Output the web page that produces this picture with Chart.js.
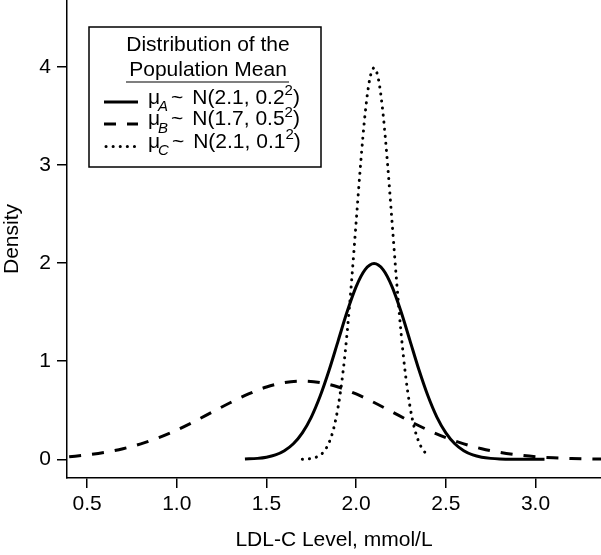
<!DOCTYPE html>
<html lang="en">
<head>
<meta charset="UTF-8">
<title>Distribution of the Population Mean</title>
<script src="https://cdn.jsdelivr.net/npm/chart.js@4"></script>
<style>
    html, body { margin: 0; padding: 0; background: #fff; }
    #wrap { width: 601px; height: 555px; }
</style>
</head>
<body>
<div id="wrap"><canvas id="densityChart" width="601" height="555"></canvas></div>
<script>
    // data
    const xA = [1.38, 1.45, 1.5, 1.55, 1.6, 1.65, 1.7, 1.75, 1.8, 1.85, 1.9, 1.95, 2.0, 2.05, 2.1, 2.15, 2.2, 2.25, 2.3, 2.35, 2.4, 2.45, 2.5, 2.55, 2.6, 2.65, 2.7, 2.75, 2.8, 2.9, 3.05];
    const yA = [0.003, 0.010, 0.022, 0.045, 0.088, 0.159, 0.270, 0.431, 0.648, 0.913, 1.210, 1.506, 1.760, 1.933, 1.995, 1.933, 1.760, 1.506, 1.210, 0.913, 0.648, 0.431, 0.270, 0.159, 0.088, 0.045, 0.022, 0.010, 0.004, 0.001, 0];

    const xB = [0.4, 0.5, 0.6, 0.7, 0.8, 0.9, 1.0, 1.1, 1.2, 1.3, 1.4, 1.5, 1.6, 1.7, 1.8, 1.9, 2.0, 2.1, 2.2, 2.3, 2.4, 2.5, 2.6, 2.7, 2.8, 2.9, 3.0, 3.1, 3.2, 3.3, 3.4];
    const yB = [0.027, 0.045, 0.071, 0.108, 0.158, 0.222, 0.299, 0.388, 0.484, 0.579, 0.666, 0.737, 0.782, 0.798, 0.782, 0.737, 0.666, 0.579, 0.484, 0.388, 0.299, 0.222, 0.158, 0.108, 0.071, 0.045, 0.027, 0.016, 0.009, 0.005, 0.002];

    const xC = [1.7, 1.725, 1.75, 1.775, 1.8, 1.825, 1.85, 1.875, 1.9, 1.925, 1.95, 1.975, 2.0, 2.025, 2.05, 2.075, 2.1, 2.125, 2.15, 2.175, 2.2, 2.225, 2.25, 2.275, 2.3, 2.325, 2.35, 2.375, 2.4];
    const yC = [0.001, 0.004, 0.009, 0.020, 0.044, 0.091, 0.175, 0.317, 0.540, 0.863, 1.295, 1.826, 2.420, 3.011, 3.521, 3.866, 3.989, 3.866, 3.521, 3.011, 2.420, 1.826, 1.295, 0.863, 0.540, 0.317, 0.175, 0.091, 0.044];

    const xTicks = [0.5, 1.0, 1.5, 2.0, 2.5, 3.0];
    const yTicks = [0, 1, 2, 3, 4];

    const xTitle = 'LDL-C Level, mmol/L';
    const yTitle = 'Density';
    const legendTitle = ['Distribution of the', 'Population Mean'];
    const seriesSubs = ['A', 'B', 'C'];
    const seriesParams = ['N(2.1, 0.2', 'N(1.7, 0.5', 'N(2.1, 0.1'];

    const FAMILY = "'Liberation Sans', Arial, Helvetica, sans-serif";
    const INK = '#000';
    const dashes = [[], [12, 11], [0.1, 7]];

    const toPoints = (xs, ys) => xs.map((x, i) => ({ x: x, y: ys[i] }));

    function lineSet(data, dash, width) {
        return {
            data: data,
            borderColor: INK,
            borderWidth: width,
            borderDash: dash,
            borderCapStyle: dash.length && dash[0] < 1 ? 'round' : 'butt',
            pointRadius: 0,
            fill: false,
            cubicInterpolationMode: 'monotone'
        };
    }

    // boxed legend like the R original
    const boxLegend = {
        id: 'boxLegend',
        afterDraw(chart) {
            const ctx = chart.ctx;
            ctx.save();
            ctx.fillStyle = '#fff';
            ctx.fillRect(89, 27, 232, 140);
            ctx.strokeStyle = INK;
            ctx.lineWidth = 1.5;
            ctx.strokeRect(89, 27, 232, 140);

            ctx.fillStyle = INK;
            ctx.font = '21px ' + FAMILY;
            ctx.textAlign = 'center';
            ctx.textBaseline = 'middle';
            ctx.fillText(legendTitle[0], 208, 45);
            ctx.fillText(legendTitle[1], 208, 70);
            ctx.beginPath();
            ctx.moveTo(126, 82);
            ctx.lineTo(289, 82);
            ctx.lineWidth = 1.2;
            ctx.stroke();

            const textY = [98, 119.5, 142];
            const lineY = [102, 124, 146.5];
            ctx.textAlign = 'left';
            seriesSubs.forEach((sub, i) => {
                ctx.save();
                ctx.lineWidth = i === 2 ? 3 : 3;
                ctx.setLineDash(dashes[i]);
                ctx.lineCap = i === 2 ? 'round' : 'butt';
                ctx.beginPath();
                ctx.moveTo(i === 2 ? 106 : 104, lineY[i]);
                ctx.lineTo(138, lineY[i]);
                ctx.stroke();
                ctx.restore();

                let x = 148;
                const y = textY[i];
                ctx.font = '21px ' + FAMILY;
                ctx.fillText('\u03bc', x, y);
                x += ctx.measureText('\u03bc').width - 2;
                ctx.font = 'italic 15px ' + FAMILY;
                ctx.fillText(sub, x, y + 9);
                x += ctx.measureText(sub).width + 3;
                ctx.font = '21px ' + FAMILY;
                ctx.fillText('~', x, y);
                x += ctx.measureText('~').width + 9;
                ctx.fillText(seriesParams[i], x, y);
                x += ctx.measureText(seriesParams[i]).width;
                ctx.font = '15px ' + FAMILY;
                ctx.fillText('2', x, y - 7);
                x += ctx.measureText('2').width;
                ctx.font = '21px ' + FAMILY;
                ctx.fillText(')', x, y);
            });
            ctx.restore();
        }
    };

    const tickFont = { family: FAMILY, size: 21 };
    const gridOpts = { drawOnChartArea: false, drawTicks: true, tickLength: 10, color: INK, lineWidth: 1.5 };
    const borderOpts = { display: true, color: INK, width: 1.5 };

    const ctx = document.getElementById('densityChart').getContext('2d');
    const densityChart = new Chart(ctx, {
        type: 'line',
        data: {
            datasets: [
                lineSet(toPoints(xA, yA), dashes[0], 3),
                lineSet(toPoints(xB, yB), dashes[1], 3),
                lineSet(toPoints(xC, yC), dashes[2], 3)
            ]
        },
        options: {
            responsive: false,
            animation: false,
            devicePixelRatio: 1,
            layout: { padding: 0 },
            plugins: { legend: { display: false }, tooltip: { enabled: false } },
            scales: {
                x: {
                    type: 'linear',
                    min: 0.388,
                    max: 3.365,
                    afterBuildTicks: s => { s.ticks = xTicks.map(v => ({ value: v })); },
                    afterFit: s => { s.height = 77; s.paddingLeft = 0; s.paddingRight = 0; },
                    grid: gridOpts,
                    border: borderOpts,
                    ticks: { color: INK, font: tickFont, padding: 4, maxRotation: 0, autoSkip: false,
                             callback: v => Number(v).toFixed(1) },
                    title: { display: true, text: xTitle, color: INK, font: tickFont, padding: { top: 0, bottom: 2 } }
                },
                y: {
                    type: 'linear',
                    min: -0.19,
                    max: 4.68,
                    afterBuildTicks: s => { s.ticks = yTicks.map(v => ({ value: v })); },
                    afterFit: s => { s.width = 67; s.paddingTop = 0; s.paddingBottom = 0; },
                    grid: gridOpts,
                    border: borderOpts,
                    ticks: { color: INK, font: tickFont, padding: 6, autoSkip: false,
                             callback: v => String(v) },
                    title: { display: true, text: yTitle, color: INK, font: tickFont, padding: { top: 0, bottom: 0 } }
                }
            }
        },
        plugins: [boxLegend]
    });
</script>
</body>
</html>
